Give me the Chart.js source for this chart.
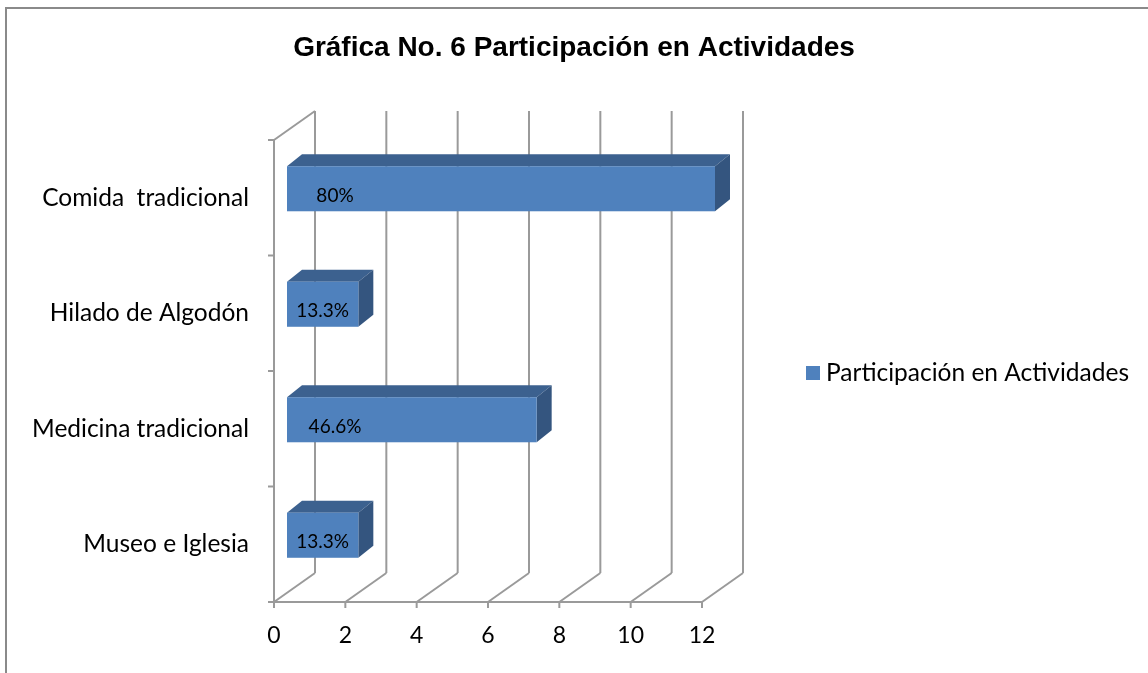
<!DOCTYPE html>
<html>
<head>
<meta charset="utf-8">
<script src="https://cdn.jsdelivr.net/npm/chart.js@4"></script>
<style>
  html, body { margin: 0; padding: 0; background: #fff; }
  #wrap { position: relative; width: 1148px; height: 673px; }
  #frame { position: absolute; left: 5px; top: 7px; right: 0; bottom: 0; border-left: 2px solid #8a8a8a; border-top: 2px solid #8a8a8a; }
</style>
</head>
<body>
<div id="wrap">
  <canvas id="barChart" width="1148" height="673"></canvas>
  <div id="frame"></div>
</div>
<script>
// datos de la grafica
const categorias = ['Comida  tradicional', 'Hilado de Algodón', 'Medicina tradicional', 'Museo e Iglesia'];
const valores = [12, 2, 7, 2];
const etiquetas = ['80%', '13.3%', '46.6%', '13.3%'];
const tituloGrafica = 'Gráfica No. 6 Participación en Actividades';
const nombreSerie = 'Participación en Actividades';

const fuente = 'Lato, "Open Sans", sans-serif';
const colorFrente = '#4F81BD';
const colorArriba = '#3C618F';
const colorLado = '#34557F';
const colorLinea = '#9a9a9a';

// profundidad del efecto 3D
const fondoDx = 41, fondoDy = -29;   // pared del fondo
const barraDx = 13, barraDy = -9;    // cara frontal de la barra
const gruesoDx = 15, gruesoDy = -12; // grosor de la barra

function linea(ctx, x1, y1, x2, y2) {
  ctx.beginPath();
  ctx.moveTo(x1, y1);
  ctx.lineTo(x2, y2);
  ctx.stroke();
}

const plugin3D = {
  id: 'plugin3D',
  beforeDatasetsDraw(chart) {
    const ctx = chart.ctx;
    const a = chart.chartArea;
    const xs = chart.scales.x;
    ctx.save();
    ctx.strokeStyle = colorLinea;
    ctx.lineWidth = 2;
    // lineas de la pared del fondo y del piso
    xs.ticks.forEach(t => {
      const px = xs.getPixelForValue(t.value);
      linea(ctx, px + fondoDx, a.top + fondoDy, px + fondoDx, a.bottom + fondoDy);
      linea(ctx, px, a.bottom, px + fondoDx, a.bottom + fondoDy);
      linea(ctx, px, a.bottom, px, a.bottom + 6);
    });
    // pared izquierda
    linea(ctx, a.left, a.top, a.left + fondoDx, a.top + fondoDy);
    linea(ctx, a.left, a.top, a.left, a.bottom);
    linea(ctx, a.left, a.bottom, xs.getPixelForValue(12), a.bottom);
    const n = categorias.length;
    for (let i = 0; i <= n; i++) {
      const py = a.top + (a.bottom - a.top) * i / n;
      linea(ctx, a.left - 6, py, a.left, py);
    }
    ctx.restore();
  },
  afterDatasetsDraw(chart) {
    const ctx = chart.ctx;
    const meta = chart.getDatasetMeta(0);
    ctx.save();
    meta.data.forEach((el, i) => {
      const p = el.getProps(['x', 'y', 'base', 'height'], true);
      const x0 = p.base + barraDx, x1 = p.x + barraDx;
      const yT = p.y - p.height / 2 + barraDy, yB = p.y + p.height / 2 + barraDy;
      // cara de arriba
      ctx.fillStyle = colorArriba;
      ctx.beginPath();
      ctx.moveTo(x0, yT);
      ctx.lineTo(x0 + gruesoDx, yT + gruesoDy);
      ctx.lineTo(x1 + gruesoDx, yT + gruesoDy);
      ctx.lineTo(x1, yT);
      ctx.closePath();
      ctx.fill();
      // cara lateral
      ctx.fillStyle = colorLado;
      ctx.beginPath();
      ctx.moveTo(x1, yT);
      ctx.lineTo(x1 + gruesoDx, yT + gruesoDy);
      ctx.lineTo(x1 + gruesoDx, yB + gruesoDy);
      ctx.lineTo(x1, yB);
      ctx.closePath();
      ctx.fill();
      // cara frontal
      ctx.fillStyle = colorFrente;
      ctx.fillRect(x0, yT, x1 - x0, yB - yT);
      // etiqueta
      ctx.fillStyle = '#000';
      ctx.font = '19px ' + fuente;
      ctx.textAlign = 'center';
      ctx.textBaseline = 'middle';
      const cx = Math.min((x0 + x1) / 2, x0 + 48);
      ctx.fillText(etiquetas[i], cx, (yT + yB) / 2 + 7);
    });
    // leyenda
    const a = chart.chartArea;
    const ly = (a.top + a.bottom) / 2 + 2;
    ctx.fillStyle = colorFrente;
    ctx.fillRect(806, ly - 7, 14, 14);
    ctx.fillStyle = '#000';
    ctx.font = '24.5px ' + fuente;
    ctx.textAlign = 'left';
    ctx.textBaseline = 'middle';
    ctx.fillText(nombreSerie, 826, ly);
    ctx.restore();
  }
};

const ctxt = document.getElementById('barChart').getContext('2d');
const grafica = new Chart(ctxt, {
  type: 'bar',
  data: {
    labels: categorias,
    datasets: [{
      label: nombreSerie,
      data: valores,
      backgroundColor: 'rgba(0,0,0,0)',
      borderWidth: 0,
      barPercentage: 0.39,
      categoryPercentage: 1
    }]
  },
  options: {
    indexAxis: 'y',
    responsive: false,
    animation: false,
    layout: { padding: 0 },
    scales: {
      x: {
        min: 0, max: 12,
        ticks: { stepSize: 2, padding: 20, color: '#000', font: { family: fuente, size: 23 } },
        grid: { display: false, drawTicks: false },
        border: { display: false },
        afterFit(s) { s.height = 71; }
      },
      y: {
        ticks: { padding: 25, color: '#000', font: { family: fuente, size: 24.5 } },
        grid: { display: false, drawTicks: false },
        border: { display: false },
        afterFit(s) { s.width = 274; }
      },
      y2: {
        type: 'category',
        position: 'right',
        labels: categorias,
        ticks: { display: false },
        grid: { display: false, drawTicks: false },
        border: { display: false },
        afterFit(s) { s.width = 446; }
      }
    },
    plugins: {
      legend: { display: false },
      tooltip: { enabled: false },
      title: {
        display: true,
        text: tituloGrafica,
        color: '#000',
        font: { family: '"Liberation Sans", Arial, sans-serif', size: 28, weight: 'bold' },
        padding: { top: 31, bottom: 75.4 }
      }
    }
  },
  plugins: [plugin3D]
});
</script>
</body>
</html>
